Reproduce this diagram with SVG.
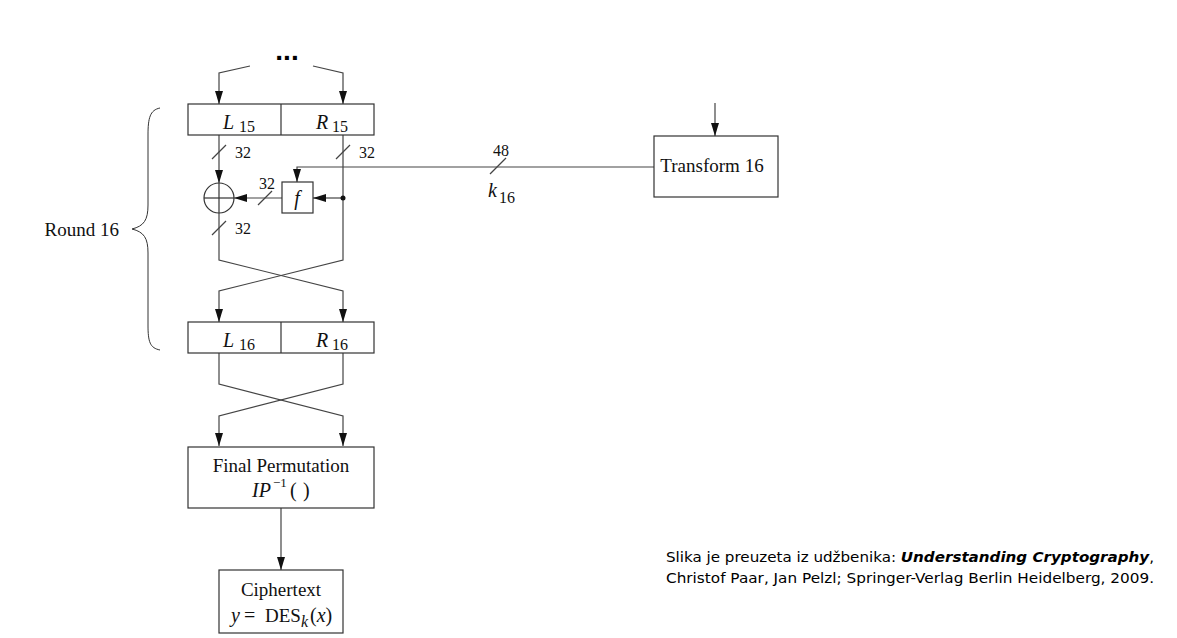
<svg xmlns="http://www.w3.org/2000/svg" width="1177" height="638" viewBox="0 0 1177 638">
<style>
.ln{fill:none;stroke:#444;stroke-width:1.2}
.bx{fill:#fff;stroke:#333;stroke-width:1.2}
.s{font-family:"Liberation Serif",serif;font-size:19px;fill:#111}
.l{font-family:"Liberation Serif",serif;font-size:20px;fill:#111}
.sm{font-family:"Liberation Serif",serif;font-size:16px;fill:#111}
.it{font-style:italic}
.cap{font-family:"DejaVu Sans",Tahoma,sans-serif;font-size:14.5px;fill:#000}
</style>
<defs>
<marker id="ar" viewBox="0 0 13 8" refX="13" refY="4" markerWidth="13" markerHeight="8" markerUnits="userSpaceOnUse" orient="auto">
<path d="M0,0 L13,4 L0,8 Z" fill="#111"/>
</marker>
</defs>
<rect width="1177" height="638" fill="#fff"/>
<g id="dots"><text x="287" y="60" text-anchor="middle" font-family="Liberation Sans,sans-serif" font-size="28" font-weight="bold" fill="#000">...</text></g>
<g id="connectors">
<path class="ln" d="M250,66 L219,73 L219,104" marker-end="url(#ar)"/>
<path class="ln" d="M313,66 L343,73 L343,104" marker-end="url(#ar)"/>
<path class="ln" d="M219,135 L219,183" marker-end="url(#ar)"/>
<path class="ln" d="M343,135 L343,260 L219,291 L219,322" marker-end="url(#ar)"/>
<path class="ln" d="M219,213 L219,260 L343,291 L343,322" marker-end="url(#ar)"/>
<path class="ln" d="M343,198 L313,198" marker-end="url(#ar)"/>
<path class="ln" d="M282,198 L234,198" marker-end="url(#ar)"/>
<circle cx="343" cy="198" r="2.5" fill="#111"/>
<path class="ln" d="M655,167 L297,167 L297,182" marker-end="url(#ar)"/>
<path class="ln" d="M715,103 L715,136" marker-end="url(#ar)"/>
<path class="ln" d="M219,353 L219,384 L343,416 L343,446" marker-end="url(#ar)"/>
<path class="ln" d="M343,353 L343,384 L219,416 L219,446" marker-end="url(#ar)"/>
<path class="ln" d="M281,508 L281,570" marker-end="url(#ar)"/>
<g class="ln">
<line x1="212" y1="159" x2="226" y2="145"/>
<line x1="336" y1="159" x2="350" y2="145"/>
<line x1="212" y1="235" x2="226" y2="221"/>
<line x1="258" y1="205" x2="272" y2="191"/>
<line x1="490" y1="174" x2="506" y2="158"/>
</g>
<text class="sm" x="235" y="158">32</text>
<text class="sm" x="359" y="158">32</text>
<text class="sm" x="235" y="234">32</text>
<text class="sm" x="259" y="189">32</text>
<text class="sm" x="493" y="156">48</text>
<text class="l it" x="488" y="197">k</text><text class="sm" x="499" y="203">16</text>
</g>
<g id="xor">
<circle cx="219" cy="198" r="15" fill="none" stroke="#333" stroke-width="1.2"/>
<line x1="204" y1="198" x2="234" y2="198" stroke="#333" stroke-width="1.2"/>
<line x1="219" y1="183" x2="219" y2="213" stroke="#333" stroke-width="1.2"/>
</g>
<g id="f"><rect class="bx" x="282" y="182" width="31" height="31"/><text class="l it" x="297" y="205" text-anchor="middle">f</text></g>
<g id="lr15">
<rect class="bx" x="188" y="104" width="186" height="31"/>
<line x1="281" y1="104" x2="281" y2="135" stroke="#333" stroke-width="1.2"/>
<text class="l it" x="223" y="129">L</text><text class="sm" x="239" y="132">15</text>
<text class="l it" x="316" y="129">R</text><text class="sm" x="332" y="132">15</text>
</g>
<g id="lr16">
<rect class="bx" x="188" y="322" width="186" height="31"/>
<line x1="281" y1="322" x2="281" y2="353" stroke="#333" stroke-width="1.2"/>
<text class="l it" x="223" y="347">L</text><text class="sm" x="239" y="350">16</text>
<text class="l it" x="316" y="347">R</text><text class="sm" x="332" y="350">16</text>
</g>
<g id="transform"><rect class="bx" x="654" y="136" width="124" height="61"/><text class="s" x="712" y="172" text-anchor="middle">Transform 16</text></g>
<g id="final">
<rect class="bx" x="188" y="447" width="186" height="61"/>
<text class="s" x="281" y="472" text-anchor="middle">Final Permutation</text>
<text class="l it" x="252" y="497">IP</text><text x="273" y="487" font-family="Liberation Serif,serif" font-size="13" fill="#111">−1</text><text class="l" x="290" y="497">(</text><text class="l" x="303" y="497">)</text>
</g>
<g id="cipher">
<rect class="bx" x="219" y="570" width="124" height="63"/>
<text class="s" x="281" y="596" text-anchor="middle">Ciphertext</text>
<text class="l it" x="231" y="622">y</text><text class="l" x="244" y="622">=</text>
<text class="s" x="265" y="622">DES</text><text class="sm it" x="301" y="627">k</text><text class="l" x="310" y="622">(<tspan font-style="italic">x</tspan>)</text>
</g>
<g id="round">
<path d="M160,108 C150,110 148,118 148,135 L148,205 C148,220 144,226 132,229 C144,232 148,238 148,253 L148,325 C148,342 150,348 160,350" fill="none" stroke="#333" stroke-width="1"/>
<text class="s" x="119" y="236" text-anchor="end">Round 16</text>
</g>
<g id="caption">
<text class="cap" x="666" y="562" textLength="488" lengthAdjust="spacingAndGlyphs">Slika je preuzeta iz udžbenika: <tspan font-weight="bold" font-style="italic">Understanding Cryptography</tspan>,</text>
<text class="cap" x="666" y="583" textLength="488" lengthAdjust="spacingAndGlyphs">Christof Paar, Jan Pelzl; Springer-Verlag Berlin Heidelberg, 2009.</text>
</g>
</svg>
